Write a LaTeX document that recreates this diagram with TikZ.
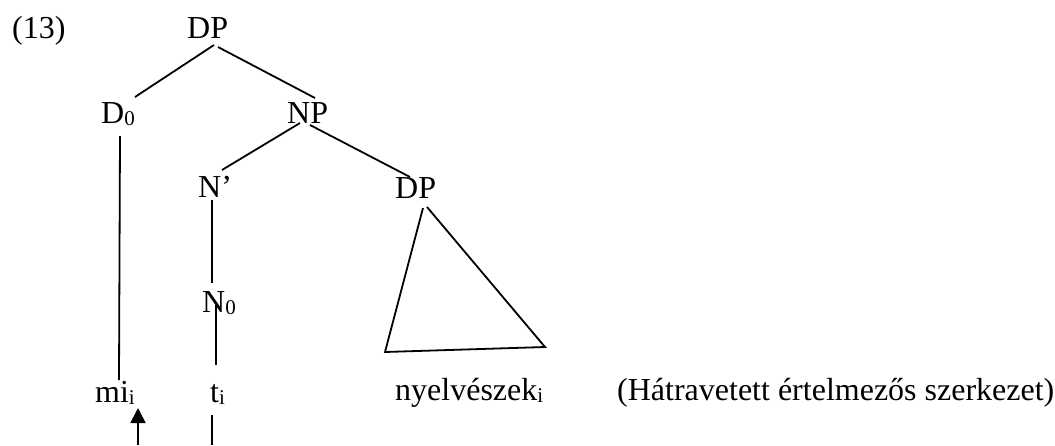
\documentclass[tikz,border=0pt]{standalone}
\usepackage{fontspec}
\setmainfont{Liberation Serif}
\usetikzlibrary{arrows.meta}
\newcommand\lsub[1]{\raisebox{-2pt}{\fontsize{21}{21}\selectfont #1}}
\begin{document}
\begin{tikzpicture}[x=1pt,y=-1pt,
  cat/.style={anchor=base west, inner sep=0pt, font=\fontsize{32}{38}\selectfont},
  branch/.style={line width=1.8pt}]
\useasboundingbox (0,0) rectangle (1055,445);
\node[cat] (ex) at (12,38) {(13)};
\node[cat] (dp) at (187,38) {DP};
\node[cat] (d0) at (101,123) {D\lsub{0}};
\node[cat] (np) at (287,123) {NP};
\node[cat] (nbar) at (198,197) {N’};
\node[cat] (dpb) at (395,198) {DP};
\node[cat] (n0) at (202,312) {N\lsub{0}};
\node[cat] (mi) at (95,402) {mi\lsub{i}};
\node[cat] (ti) at (210,402) {t\lsub{i}};
\node[cat] (nyel) at (395,400) {nyelvészek\lsub{i}};
\node[cat] (gloss) at (617,400) {(Hátravetett értelmezős szerkezet)};
\coordinate (mov) at (138,445);
\coordinate (trc) at (212,445);
\draw[branch] ([xshift=27pt,yshift=-7pt]dp.base west) -- ([xshift=34pt,yshift=26pt]d0.base west);
\draw[branch] ([xshift=31pt,yshift=-9pt]dp.base west) -- ([xshift=28pt,yshift=25pt]np.base west);
\draw[branch] ([xshift=19pt,yshift=-13pt]d0.base west) -- ([xshift=24pt,yshift=22pt]mi.base west);
\draw[branch] ([xshift=13pt]np.base west) -- ([xshift=24pt,yshift=27pt]nbar.base west);
\draw[branch] ([xshift=23pt,yshift=-2pt]np.base west) -- ([xshift=15pt,yshift=21pt]dpb.base west);
\draw[branch] ([xshift=14pt,yshift=-3pt]nbar.base west) -- ([xshift=10pt,yshift=29pt]n0.base west);
\draw[branch] ([xshift=14pt,yshift=7pt]n0.base west) -- ([xshift=6pt,yshift=37pt]ti.base west);
\draw[branch] ([xshift=28pt,yshift=-10pt]dpb.base west) -- ([xshift=-10pt,yshift=48pt]nyel.base west)
  -- ([xshift=150pt,yshift=53pt]nyel.base west) -- ([xshift=32pt,yshift=-9pt]dpb.base west);
\draw[branch,-{Triangle[width=15pt,length=15pt]}] (mov) -- ([xshift=43pt,yshift=-6pt]mi.base west);
\draw[branch] ([xshift=2pt,yshift=-13pt]ti.base west) -- (trc);
\end{tikzpicture}
\end{document}
